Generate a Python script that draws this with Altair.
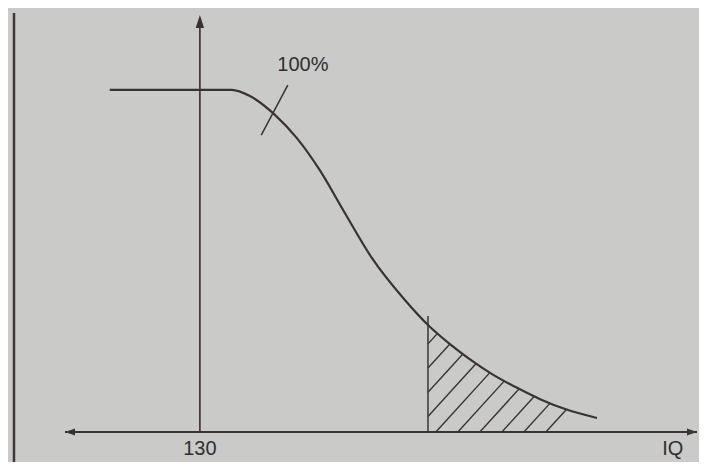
import altair as alt
import numpy as np
import pandas as pd

# ---- data ----
curve_iq = [118.1, 134.2, 136.6, 139.9, 142.8, 145.8, 148.9, 152.6, 157.05, 160.1,
            163.0, 165.6, 168.5, 171.6, 174.9, 178.2, 182.4]
curve_pct = [100, 100, 98.2, 92.7, 85.9, 76.6, 64.9, 51.2, 38.6, 31.3,
             25.7, 21.3, 17.0, 13.2, 9.6, 6.7, 4.1]

axis_iq = 130
cutoff_iq = 160.1
tick_iq = [138.1, 141.6]
tick_pct = [86.8, 101.4]

label_text = ["130", "IQ"]
label_iq = [130, 192.4]
note_text = ["100%"]
note_iq = [143.6]
note_pct = [107.3]

X_DOMAIN = [112.2, 195.6]
Y_DOMAIN = [0, 121.9]

# ---- layout / style ----
W, H = 632, 417
INK = "#3b3333"
TXT = "#2f2f2f"
FONT = "Liberation Sans"
BG = "#cacbc9"

xs = alt.Scale(domain=X_DOMAIN, nice=False, zero=False)
ys = alt.Scale(domain=Y_DOMAIN, nice=False, zero=False)

# ---- hatch lines (derived from the curve) ----
px_per_iq = W / (X_DOMAIN[1] - X_DOMAIN[0])
px_per_pct = H / (Y_DOMAIN[1] - Y_DOMAIN[0])
slope = 1.1 * px_per_iq / px_per_pct
step = 22 / px_per_iq
first_bottom = 161.14
grid = np.linspace(cutoff_iq, curve_iq[-1], 3000)
fgrid = np.interp(grid, curve_iq, curve_pct)
rows = []
for k in range(-4, 6):
    b = first_bottom + k * step
    if b < cutoff_iq:
        x0, y0 = cutoff_iq, slope * (cutoff_iq - b)
    else:
        x0, y0 = b, 0.0
    if y0 >= np.interp(x0, curve_iq, curve_pct):
        continue
    g = slope * (grid - b) - fgrid
    idx = int(np.argmax(g >= 0))
    if g[idx] < 0:
        continue
    rows.append({"x": x0, "y": y0, "x2": float(grid[idx]), "y2": float(fgrid[idx])})
hatch_df = pd.DataFrame(rows)

curve_df = pd.DataFrame({"iq": curve_iq, "pct": curve_pct})
cut_top = float(np.interp(cutoff_iq, curve_iq, curve_pct)) + 2.6

curve = alt.Chart(curve_df).mark_line(
    color=INK, strokeWidth=2.2, interpolate="monotone"
).encode(
    x=alt.X("iq:Q", scale=xs, axis=None),
    y=alt.Y("pct:Q", scale=ys, axis=None),
)

hatch = alt.Chart(hatch_df).mark_rule(color=INK, strokeWidth=1.4).encode(
    x=alt.X("x:Q", scale=xs, axis=None), y=alt.Y("y:Q", scale=ys, axis=None),
    x2="x2:Q", y2="y2:Q",
)

cut = alt.Chart(pd.DataFrame({"x": [cutoff_iq], "y": [0], "y2": [cut_top]})).mark_rule(
    color=INK, strokeWidth=1.5
).encode(x=alt.X("x:Q", scale=xs, axis=None), y=alt.Y("y:Q", scale=ys, axis=None), y2="y2:Q")

tick = alt.Chart(pd.DataFrame({"x": [tick_iq[0]], "y": [tick_pct[0]],
                               "x2": [tick_iq[1]], "y2": [tick_pct[1]]})).mark_rule(
    color=INK, strokeWidth=1.5
).encode(x=alt.X("x:Q", scale=xs, axis=None), y=alt.Y("y:Q", scale=ys, axis=None),
         x2="x2:Q", y2="y2:Q")

xaxis = alt.Chart(pd.DataFrame({"x": [X_DOMAIN[0]], "x2": [X_DOMAIN[1]], "y": [0]})).mark_rule(
    color=INK, strokeWidth=2
).encode(x=alt.X("x:Q", scale=xs, axis=None), x2="x2:Q", y=alt.Y("y:Q", scale=ys, axis=None))

yaxis = alt.Chart(pd.DataFrame({"x": [axis_iq], "y": [0], "y2": [Y_DOMAIN[1] - 1]})).mark_rule(
    color="#4a3232", strokeWidth=1.7
).encode(x=alt.X("x:Q", scale=xs, axis=None), y=alt.Y("y:Q", scale=ys, axis=None), y2="y2:Q")


def arrow(x, y, path, size):
    return alt.Chart(pd.DataFrame({"x": [x], "y": [y]})).mark_point(
        shape=path, filled=True, size=size, color=INK, opacity=1, strokeWidth=0
    ).encode(x=alt.X("x:Q", scale=xs, axis=None), y=alt.Y("y:Q", scale=ys, axis=None))


up = arrow(axis_iq, Y_DOMAIN[1], "M0,0L0.65,2L-0.65,2Z", 169)
right = arrow(X_DOMAIN[1], 0, "M0,0L-2,-0.7L-2,0.7Z", 100)
left = arrow(X_DOMAIN[0], 0, "M0,0L2,-0.7L2,0.7Z", 100)

labels = alt.Chart(pd.DataFrame({"t": label_text, "x": label_iq, "y": [0, 0]})).mark_text(
    font=FONT, fontSize=20, color=TXT, dy=17, baseline="middle", align="center"
).encode(x=alt.X("x:Q", scale=xs, axis=None), y=alt.Y("y:Q", scale=ys, axis=None), text="t:N")

note = alt.Chart(pd.DataFrame({"t": note_text, "x": note_iq, "y": note_pct})).mark_text(
    font=FONT, fontSize=20, color=TXT, baseline="middle", align="center"
).encode(x=alt.X("x:Q", scale=xs, axis=None), y=alt.Y("y:Q", scale=ys, axis=None), text="t:N")

edge = alt.Chart(pd.DataFrame({"a": [0]})).mark_rule(color="#403838", strokeWidth=2.5).encode(
    x=alt.value(-51), y=alt.value(-2), y2=alt.value(460)
)

chart = alt.layer(
    edge, hatch, cut, curve, tick, xaxis, yaxis, up, right, left, labels, note
).properties(
    width=W, height=H,
    padding={"left": 57, "top": 7, "right": 2, "bottom": 30},
    autosize=alt.AutoSizeParams(type="none"),
    background=BG,
).configure_view(stroke=None)

chart.save("out.html", embed_options={"renderer": "svg", "actions": False})
